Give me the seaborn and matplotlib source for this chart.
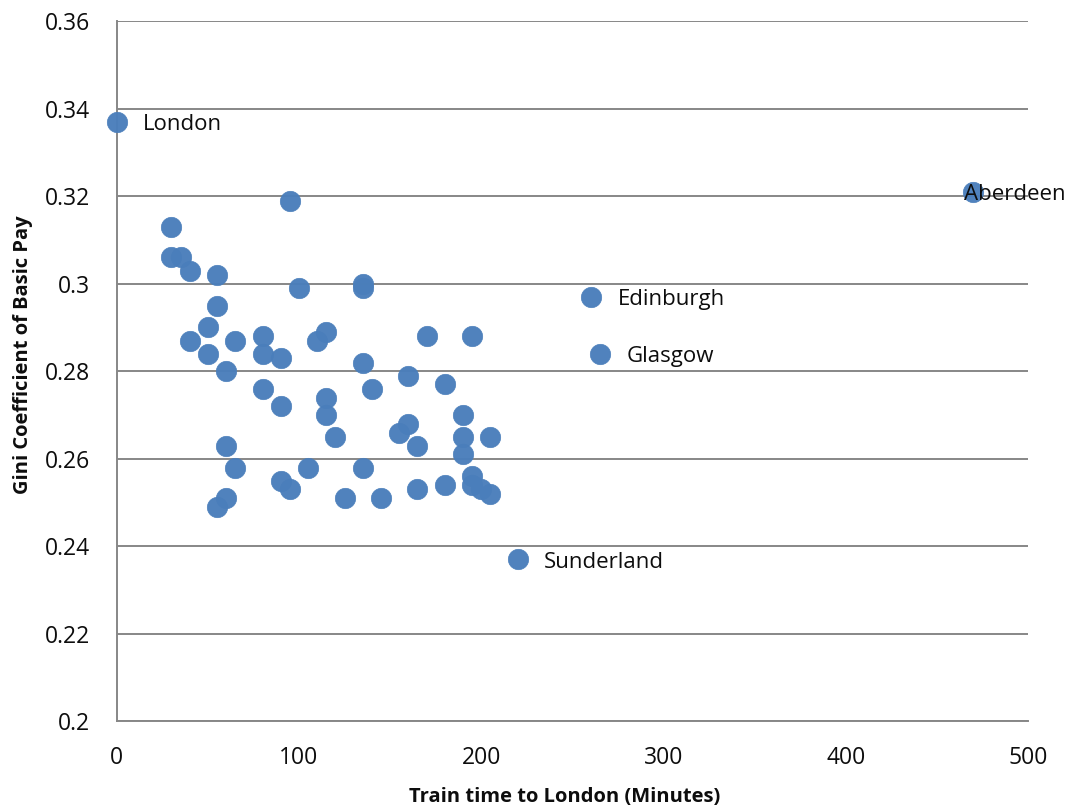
import matplotlib
matplotlib.use("Agg")
import matplotlib.pyplot as plt
import seaborn as sns
import pandas as pd

# Train time to London (minutes) and Gini coefficient of basic pay by city
train_minutes = [
    0, 30, 30, 35, 40, 55, 55, 50, 40, 50, 65, 60, 80, 80, 90, 95, 100, 110, 115,
    80, 90, 60, 65, 60, 55, 90, 95, 105, 115, 115, 120, 125, 135, 135, 135, 140,
    135, 145, 155, 160, 160, 165, 165, 170, 180, 180, 190, 190, 190, 195, 195,
    195, 200, 205, 205, 220, 260, 265, 470,
]
gini = [
    0.337, 0.313, 0.306, 0.306, 0.303, 0.302, 0.295, 0.290, 0.287, 0.284, 0.287,
    0.280, 0.288, 0.284, 0.283, 0.319, 0.299, 0.287, 0.289, 0.276, 0.272, 0.263,
    0.258, 0.251, 0.249, 0.255, 0.253, 0.258, 0.274, 0.270, 0.265, 0.251, 0.300,
    0.299, 0.282, 0.276, 0.258, 0.251, 0.266, 0.268, 0.279, 0.263, 0.253, 0.288,
    0.277, 0.254, 0.270, 0.265, 0.261, 0.288, 0.256, 0.254, 0.253, 0.252, 0.265,
    0.237, 0.297, 0.284, 0.321,
]

# Named cities: (name, minutes, gini, text offset in pixels)
labelled = [
    ("London", 0, 0.337, 26),
    ("Edinburgh", 260, 0.297, 27),
    ("Glasgow", 265, 0.284, 27),
    ("Sunderland", 220, 0.237, 26),
    ("Aberdeen", 470, 0.321, -9),
]

x_ticks = [0, 100, 200, 300, 400, 500]
y_ticks = [0.2, 0.22, 0.24, 0.26, 0.28, 0.3, 0.32, 0.34, 0.36]
y_tick_labels = ["0.2", "0.22", "0.24", "0.26", "0.28", "0.3", "0.32", "0.34", "0.36"]

df = pd.DataFrame({"minutes": train_minutes, "gini": gini})

sns.set_theme(style="white")
plt.rcParams["font.family"] = ["Open Sans", "DejaVu Sans"]

fig = plt.figure(figsize=(10.76, 8.10), dpi=100)
ax = fig.add_axes([0.1085, 0.1093, 0.8469, 0.8647])

grid_color = "#878787"
text_color = "#0d0d0d"
for yv in y_ticks:
    ax.axhline(yv, color=grid_color, lw=1.4, zorder=0)

sns.scatterplot(data=df, x="minutes", y="gini", ax=ax, s=215,
                color="#4a7ebb", edgecolor="#4a7ebb", linewidth=0.5,
                alpha=0.97, zorder=3, clip_on=False)

for name, xv, yv, dx in labelled:
    ax.annotate(name, (xv, yv), xytext=(dx, -3), textcoords="offset pixels",
                ha="left", va="center", fontsize=16, color=text_color, zorder=4)

ax.set_xlim(0, 500)
ax.set_ylim(0.2, 0.36)
ax.set_xticks(x_ticks)
ax.set_yticks(y_ticks)
ax.set_yticklabels(y_tick_labels)
ax.tick_params(axis="both", length=0, labelsize=16.5, colors=text_color)
ax.tick_params(axis="x", pad=18)
ax.tick_params(axis="y", pad=19)

for side in ["top", "right"]:
    ax.spines[side].set_visible(False)
for side in ["left", "bottom"]:
    ax.spines[side].set_color(grid_color)
    ax.spines[side].set_linewidth(1.4)

ax.set_xlabel("Train time to London (Minutes)", fontsize=14.5,
              fontweight="bold", color=text_color)
ax.set_ylabel("Gini Coefficient of Basic Pay", fontsize=14.5,
              fontweight="bold", color=text_color)
ax.xaxis.set_label_coords(0.4915, -0.094)
ax.yaxis.set_label_coords(-0.092, 0.523)

fig.savefig("out.png", dpi=100)
